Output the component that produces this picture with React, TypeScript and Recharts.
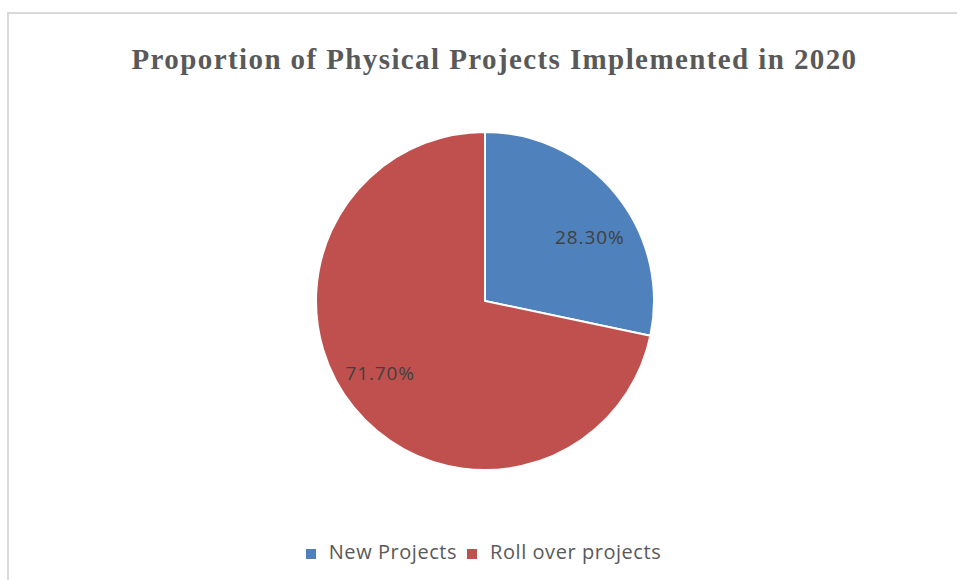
import { PieChart, Pie, Cell, Legend } from 'recharts';

const CATEGORIES = ['New Projects', 'Roll over projects'];
const SHARES = [28.3, 71.7];
const COLORS = ['#4F81BD', '#C0504D'];

const DATA = CATEGORIES.map((name, i) => ({ name, value: SHARES[i] }));

const RAD = Math.PI / 180;

// labels sit a little clockwise of the slice middle, like in the original
const renderLabel = (props: any) => {
  const { cx, cy, midAngle, outerRadius, value } = props;
  const r = outerRadius * 0.74;
  const a = (midAngle - 6) * RAD;
  const x = cx + r * Math.cos(-a);
  const y = cy + r * Math.sin(-a) + 4;
  return (
    <text
      x={x}
      y={y}
      fill="#404040"
      textAnchor="middle"
      dominantBaseline="central"
      style={{ fontFamily: '"Open Sans", sans-serif', fontSize: 19, letterSpacing: 0.9 }}
    >
      {value.toFixed(2)}%
    </text>
  );
};

export default function App() {
  return (
    <div style={{ position: 'fixed', left: 0, top: 0, width: 957, height: 580, overflow: 'hidden', background: '#fff' }}>
      {/* chart frame, runs off the right and bottom edges */}
      <div
        style={{
          position: 'absolute',
          left: 7,
          top: 12,
          width: 1000,
          height: 620,
          border: '2px solid #d9d9d9',
        }}
      />
      <div
        style={{
          position: 'absolute',
          left: 0,
          width: 957,
          top: 43,
          textAlign: 'center',
          fontFamily: '"Liberation Serif", "Times New Roman", serif',
          fontWeight: 'bold',
          fontSize: 29,
          letterSpacing: 1.4,
          color: '#595959',
          paddingLeft: 32,
          boxSizing: 'border-box',
          whiteSpace: 'nowrap',
        }}
      >
        Proportion of Physical Projects Implemented in 2020
      </div>
      <div style={{ position: 'absolute', left: 0, top: 0 }}>
        <PieChart width={957} height={580} margin={{ top: 0, right: 0, bottom: 0, left: 0 }}>
          <Pie
            data={DATA}
            dataKey="value"
            nameKey="name"
            cx={485}
            cy={301}
            outerRadius={169}
            startAngle={90}
            endAngle={-270}
            stroke="#fff"
            strokeWidth={2}
            label={renderLabel}
            labelLine={false}
            isAnimationActive={false}
          >
            {DATA.map((d, i) => (
              <Cell key={d.name} fill={COLORS[i]} />
            ))}
          </Pie>
          <Legend
            layout="horizontal"
            verticalAlign="bottom"
            align="center"
            iconType="square"
            iconSize={10}
            wrapperStyle={{
              bottom: 15,
              left: 10,
              fontFamily: '"Open Sans", sans-serif',
              fontSize: 20,
              letterSpacing: 0.55,
            }}
            formatter={(value: string) => <span style={{ color: '#595959', marginLeft: 9 }}>{value}</span>}
          />
        </PieChart>
      </div>
    </div>
  );
}
